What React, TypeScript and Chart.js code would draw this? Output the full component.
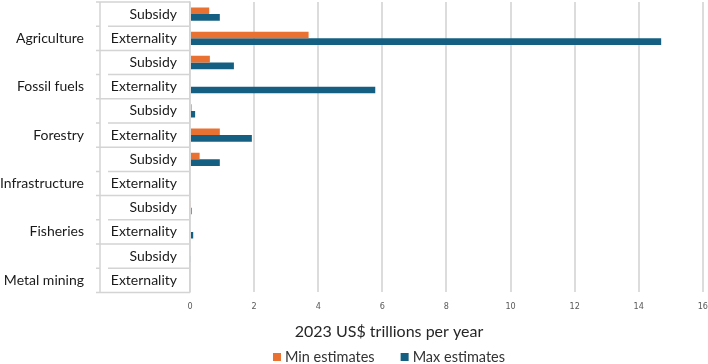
import React, { useEffect, useRef } from "react";
import { Chart, registerables } from "chart.js";

Chart.register(...registerables);

const groups = ["Agriculture", "Fossil fuels", "Forestry", "Infrastructure", "Fisheries", "Metal mining"];
const types = ["Subsidy", "Externality"];
const minEstimates = [0.6, 3.7, 0.62, 0, 0.05, 0.93, 0.3, 0, 0.03, 0, 0, 0];
const maxEstimates = [0.93, 14.7, 1.37, 5.78, 0.16, 1.93, 0.93, 0, 0.05, 0.1, 0.03, 0];
const xTicks = [0, 2, 4, 6, 8, 10, 12, 14, 16];
const axisTitle = "2023 US$ trillions per year";
const seriesNames = ["Min estimates", "Max estimates"];
const seriesColors = ["#E97132", "#156082"];

const categories: string[] = [];
groups.forEach((g) => types.forEach((t) => categories.push(g + "|" + t)));

const FONT = "Lato, 'Open Sans', sans-serif";
const NARROW = "'Liberation Sans Narrow', 'DejaVu Sans Condensed', sans-serif";
const LINE = "#d4d4d4";

const groupPlugin = {
  id: "groupLabels",
  afterDraw(chart: any) {
    const { ctx, chartArea, scales } = chart;
    const y = scales.y;
    const left = chartArea.left;
    const boxLeft = left - 90;
    const n = categories.length;
    const bounds: number[] = [];
    for (let i = 0; i <= n; i++) {
      if (i === 0) bounds.push(chartArea.top);
      else if (i === n) bounds.push(chartArea.bottom);
      else bounds.push((y.getPixelForValue(i - 1) + y.getPixelForValue(i)) / 2);
    }
    ctx.save();
    ctx.strokeStyle = LINE;
    ctx.lineWidth = 1.5;
    ctx.beginPath();
    ctx.moveTo(boxLeft, chartArea.top);
    ctx.lineTo(boxLeft, chartArea.bottom);
    bounds.forEach((b, i) => {
      const start = i % 2 === 0 ? boxLeft - 4 : boxLeft + 8;
      ctx.moveTo(start, b);
      ctx.lineTo(left, b);
      if (i % 2 === 1) {
        ctx.moveTo(boxLeft - 4, b);
        ctx.lineTo(boxLeft, b);
      }
    });
    ctx.stroke();
    ctx.fillStyle = "#1a1a1a";
    ctx.font = "14px " + FONT;
    ctx.textAlign = "right";
    ctx.textBaseline = "middle";
    groups.forEach((g, gi) => {
      ctx.fillText(g, boxLeft - 16, y.getPixelForValue(gi * 2 + 1));
    });
    categories.forEach((_, i) => {
      ctx.fillText(types[i % 2], left - 13, y.getPixelForValue(i));
    });

    // legend
    ctx.font = "14.5px " + FONT;
    ctx.textAlign = "left";
    const box = 8;
    const gapText = 4;
    const gapItem = 26;
    const widths = seriesNames.map((s) => ctx.measureText(s).width);
    const total = widths.reduce((a, w) => a + box + gapText + w, 0) + gapItem * (seriesNames.length - 1);
    const cx = (chart.options.layout.padding.left + chart.width - chart.options.layout.padding.right) / 2;
    let x = cx - total / 2;
    const ly = 357;
    seriesNames.forEach((s, i) => {
      ctx.fillStyle = seriesColors[i];
      ctx.fillRect(x, ly - box / 2, box, box);
      x += box + gapText;
      ctx.fillStyle = "#333333";
      ctx.fillText(s, x, ly);
      x += widths[i] + gapItem;
    });
    ctx.restore();
  },
};

export default function App() {
  const ref = useRef<HTMLCanvasElement>(null);
  useEffect(() => {
    if (!ref.current) return;
    const chart = new Chart(ref.current, {
      type: "bar",
      data: {
        labels: categories,
        datasets: [
          { label: seriesNames[0], data: minEstimates, backgroundColor: seriesColors[0], borderWidth: 0 },
          { label: seriesNames[1], data: maxEstimates, backgroundColor: seriesColors[1], borderWidth: 0 },
        ],
      },
      options: {
        indexAxis: "y",
        animation: false,
        responsive: true,
        maintainAspectRatio: false,
        layout: { padding: { left: 74, right: 4, top: 2, bottom: 23 } },
        datasets: { bar: { categoryPercentage: 0.55, barPercentage: 1 } },
        scales: {
          y: {
            type: "category",
            grid: { display: false },
            border: { display: true, color: LINE, width: 1.5 },
            ticks: { display: false },
            afterFit: (s: any) => {
              s.width = 116;
            },
          },
          x: {
            min: xTicks[0],
            max: xTicks[xTicks.length - 1],
            afterBuildTicks: (s: any) => {
              s.ticks = xTicks.map((v) => ({ value: v }));
            },
            grid: {
              color: "#dcdcdc",
              lineWidth: 2,
              drawTicks: true,
              tickLength: 9,
              tickColor: "rgba(0,0,0,0)",
            },
            border: { display: false },
            ticks: {
              font: { family: NARROW, size: 9 },
              color: "#595959",
              padding: 0,
              maxRotation: 0,
            },
          },
        },
        plugins: {
          legend: { display: false },
          title: {
            display: true,
            text: axisTitle,
            position: "bottom",
            color: "#262626",
            font: { family: FONT, size: 16, weight: "normal" },
            padding: { top: 9.6, bottom: 0 },
          },
          tooltip: { enabled: false },
        },
      } as any,
      plugins: [groupPlugin],
    });
    return () => chart.destroy();
  }, []);
  return (
    <div style={{ position: "absolute", left: 0, top: 0, width: 708, height: 364, background: "#fff" }}>
      <canvas ref={ref} />
    </div>
  );
}
